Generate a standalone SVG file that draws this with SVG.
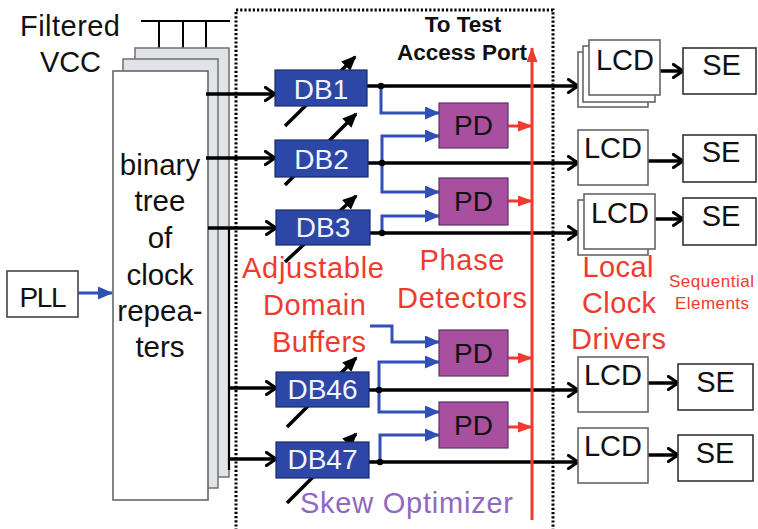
<svg xmlns="http://www.w3.org/2000/svg" width="758" height="529" viewBox="0 0 758 529">
<style>
text{font-family:"Liberation Sans",Arial,sans-serif}
.blk{stroke:#000;stroke-width:3.5;fill:none}
.blu{stroke:#3050b8;stroke-width:3;fill:none}
.red{stroke:#f03a2e;stroke-width:3;fill:none}
.rt{fill:#f03a2e;font-size:29px;text-anchor:middle}
.db{fill:#2c47a6;stroke:#1a2c70;stroke-width:1.2}
.dbt{fill:#f4f4ff;font-size:28px;text-anchor:middle}
.pd{fill:#a8509f;stroke:#5a3464;stroke-width:1.2}
.pdt{fill:#111;font-size:28px;text-anchor:middle}
.bx{fill:#fff;stroke:#666;stroke-width:1.6}
.bxg{fill:#e2e3e6;stroke:#777;stroke-width:1.6}
.se{fill:#fff;stroke:#333;stroke-width:1.6}
.lt{fill:#111;font-size:29px;text-anchor:middle}
</style>
<defs>
<marker id="ak" viewBox="0 0 13 16" markerWidth="13" markerHeight="16" refX="11" refY="8" orient="auto" markerUnits="userSpaceOnUse">
<path d="M1.5,1.5 L11,8 L1.5,14.5" fill="none" stroke="#000" stroke-width="3.2" stroke-linejoin="round" stroke-linecap="round"/>
</marker>
<marker id="af" viewBox="0 0 15 13" markerWidth="15" markerHeight="13" refX="13" refY="6.5" orient="auto" markerUnits="userSpaceOnUse">
<path d="M0,0 L15,6.5 L0,13 z" fill="#000"/>
</marker>
<marker id="ab" viewBox="0 0 15 13" markerWidth="15" markerHeight="13" refX="14" refY="6.5" orient="auto" markerUnits="userSpaceOnUse">
<path d="M0,0 L15,6.5 L0,13 z" fill="#3050b8"/>
</marker>
<marker id="ar" viewBox="0 0 15 11" markerWidth="15" markerHeight="11" refX="14" refY="5.5" orient="auto" markerUnits="userSpaceOnUse">
<path d="M0,0 L15,5.5 L0,11 z" fill="#f03a2e"/>
</marker>
</defs>

<!-- Skew optimizer dotted frame -->
<path d="M236,535 V10 H553 V535" fill="none" stroke="#000" stroke-width="3" stroke-dasharray="2.2 2"/>

<!-- Filtered VCC -->
<g id="vcc">
<text x="20" y="36" font-size="29" fill="#111" textLength="100">Filtered</text>
<text x="40" y="72" font-size="29" fill="#111" textLength="61">VCC</text>
<path d="M141,21 H230 M159,21 V71 M183,21 V59 M206,21 V48" stroke="#000" stroke-width="2" fill="none"/>
</g>

<!-- Clock tree -->
<g id="tree">
<rect class="bxg" x="135" y="48" width="94" height="429"/>
<rect class="bxg" x="123" y="59" width="95" height="429"/>
<rect class="bx" x="113" y="71" width="95" height="429"/>
<g class="lt" style="font-size:29.5px">
<text x="160" y="175">binary</text>
<text x="160" y="211">tree</text>
<text x="160" y="248">of</text>
<text x="160" y="285">clock</text>
<text x="160" y="321">repea-</text>
<text x="160" y="357">ters</text>
</g>
</g>

<!-- PLL -->
<g id="pll">
<rect x="7" y="271" width="71" height="46" fill="#fff" stroke="#444" stroke-width="1.6"/>
<text class="lt" x="43" y="307" textLength="47" style="font-size:28px">PLL</text>
</g>

<!-- Titles -->
<g id="labels">
<text x="463" y="32" font-size="22.5" font-weight="bold" text-anchor="middle" fill="#111">To Test</text>
<text x="462" y="60" font-size="22.5" font-weight="bold" text-anchor="middle" fill="#111">Access Port</text>
<text class="rt" x="313" y="278" textLength="142">Adjustable</text>
<text class="rt" x="314.5" y="315" textLength="103">Domain</text>
<text class="rt" x="319" y="352" textLength="94">Buffers</text>
<text class="rt" x="462" y="270" textLength="85">Phase</text>
<text class="rt" x="462" y="308" textLength="130">Detectors</text>
<text class="rt" x="618" y="277" textLength="71">Local</text>
<text class="rt" x="619" y="313" textLength="74">Clock</text>
<text class="rt" x="618.5" y="349" textLength="95">Drivers</text>
<text x="711.5" y="287" font-size="17" text-anchor="middle" fill="#f03a2e" textLength="85">Sequential</text>
<text x="712" y="309" font-size="17" text-anchor="middle" fill="#f03a2e" textLength="74">Elements</text>
<text x="406.5" y="513" font-size="29" text-anchor="middle" fill="#9068c0" textLength="213">Skew Optimizer</text>
</g>

<!-- Connectors -->
<g id="connectors">
<!-- PLL to tree -->
<path class="blu" d="M78,293 H112" marker-end="url(#ab)"/>
<!-- tree to DBs -->
<path class="blk" d="M229,228 V470" style="stroke-width:2.2"/>
<path class="blk" d="M206,94 H275" marker-end="url(#ak)"/>
<path class="blk" d="M206,158 H275" marker-end="url(#ak)"/>
<path class="blk" d="M208,228 H276" marker-end="url(#ak)"/>
<path class="blk" d="M228,388 H276" marker-end="url(#ak)"/>
<path class="blk" d="M228,459 H276" marker-end="url(#ak)"/>
<!-- adjust arrows (behind boxes) -->
<path class="blk" d="M285,126 L355,57" marker-end="url(#af)"/>
<path class="blk" d="M285,185 L356,114" marker-end="url(#af)"/>
<path class="blk" d="M285,262 L356,196" marker-end="url(#af)"/>
<path class="blk" d="M287,427 L356,358" marker-end="url(#af)"/>
<path class="blk" d="M287,503 L356,434" marker-end="url(#af)"/>
<!-- DB outputs to LCDs -->
<path class="blk" d="M367,86 H578" marker-end="url(#ak)"/>
<path class="blk" d="M368,163 H578" marker-end="url(#ak)"/>
<path class="blk" d="M370,233 H578" marker-end="url(#ak)"/>
<path class="blk" d="M369,390 H578" marker-end="url(#ak)"/>
<path class="blk" d="M369,462 H578" marker-end="url(#ak)"/>
<!-- LCD to SE -->
<path class="blk" d="M660,71 H683" marker-end="url(#ak)"/>
<path class="blk" d="M648,161 H683" marker-end="url(#ak)"/>
<path class="blk" d="M655,219 H683" marker-end="url(#ak)"/>
<path class="blk" d="M648,383 H678" marker-end="url(#ak)"/>
<path class="blk" d="M648,455 H678" marker-end="url(#ak)"/>
<!-- blue to PDs -->
<path class="blu" d="M381,86 V113 H439" marker-end="url(#ab)"/>
<path class="blu" d="M382,163 V136 H439" marker-end="url(#ab)"/>
<path class="blu" d="M382,163 V192 H439" marker-end="url(#ab)"/>
<path class="blu" d="M382,233 V216 H439" marker-end="url(#ab)"/>
<path class="blu" d="M370,326 H392 V342 H439" marker-end="url(#ab)"/>
<path class="blu" d="M379,390 V362 H439" marker-end="url(#ab)"/>
<path class="blu" d="M379,390 V412 H439" marker-end="url(#ab)"/>
<path class="blu" d="M380,462 V435 H439" marker-end="url(#ab)"/>
<!-- red -->
<path class="red" d="M532,520 V48" marker-end="url(#ar)"/>
<path class="red" d="M508,126 H532" marker-end="url(#ar)"/>
<path class="red" d="M508,201 H532" marker-end="url(#ar)"/>
<path class="red" d="M508,358 H532" marker-end="url(#ar)"/>
<path class="red" d="M508,427 H532" marker-end="url(#ar)"/>
<!-- junction dots -->
<g fill="#000">
<circle cx="381" cy="86" r="3.2"/>
<circle cx="382" cy="163" r="3.2"/>
<circle cx="382" cy="233" r="3.2"/>
<circle cx="379" cy="390" r="3.2"/>
<circle cx="380" cy="462" r="3.2"/>
</g>
</g>

<!-- Domain buffers -->
<g id="db1"><rect class="db" x="275" y="70" width="92" height="36"/><text class="dbt" x="321" y="99">DB1</text></g>
<g id="db2"><rect class="db" x="275" y="140" width="93" height="37"/><text class="dbt" x="321.5" y="169">DB2</text></g>
<g id="db3"><rect class="db" x="276" y="210" width="94" height="35"/><text class="dbt" x="323" y="237">DB3</text></g>
<g id="db46"><rect class="db" x="276" y="372" width="93" height="35"/><text class="dbt" x="322.5" y="399">DB46</text></g>
<g id="db47"><rect class="db" x="276" y="442" width="93" height="36"/><text class="dbt" x="322.5" y="469">DB47</text></g>

<!-- Phase detectors -->
<g id="pd1"><rect class="pd" x="439" y="103" width="69" height="45"/><text class="pdt" x="473.5" y="135">PD</text></g>
<g id="pd2"><rect class="pd" x="439" y="178" width="69" height="47"/><text class="pdt" x="473.5" y="211">PD</text></g>
<g id="pd3"><rect class="pd" x="439" y="330" width="69" height="46"/><text class="pdt" x="473.5" y="363">PD</text></g>
<g id="pd4"><rect class="pd" x="439" y="402" width="69" height="46"/><text class="pdt" x="473.5" y="435">PD</text></g>

<!-- Local clock drivers -->
<g id="lcd1">
<rect class="bx" x="578" y="52" width="70" height="55"/>
<rect class="bx" x="583" y="46" width="72" height="56"/>
<rect class="bx" x="589" y="40" width="71" height="55"/>
<text class="lt" x="625" y="70">LCD</text>
</g>
<g id="lcd2"><rect class="bx" x="578" y="130" width="70" height="55"/><text class="lt" x="613" y="158">LCD</text></g>
<g id="lcd3">
<rect class="bx" x="578" y="200" width="70" height="55"/>
<rect class="bx" x="584" y="194" width="71" height="55"/>
<text class="lt" x="620" y="223">LCD</text>
</g>
<g id="lcd4"><rect class="bx" x="578" y="357" width="70" height="55"/><text class="lt" x="613" y="385">LCD</text></g>
<g id="lcd5"><rect class="bx" x="578" y="428" width="70" height="55"/><text class="lt" x="613" y="456">LCD</text></g>

<!-- Sequential elements -->
<g id="se1"><rect class="se" x="683" y="48" width="73" height="46"/><text class="lt" x="721.5" y="75">SE</text></g>
<g id="se2"><rect class="se" x="683" y="135" width="73" height="47"/><text class="lt" x="721" y="162">SE</text></g>
<g id="se3"><rect class="se" x="683" y="198" width="73" height="47"/><text class="lt" x="721" y="226">SE</text></g>
<g id="se4"><rect class="se" x="678" y="364" width="75" height="46"/><text class="lt" x="715.5" y="392">SE</text></g>
<g id="se5"><rect class="se" x="678" y="435" width="75" height="46"/><text class="lt" x="715" y="463">SE</text></g>
</svg>
